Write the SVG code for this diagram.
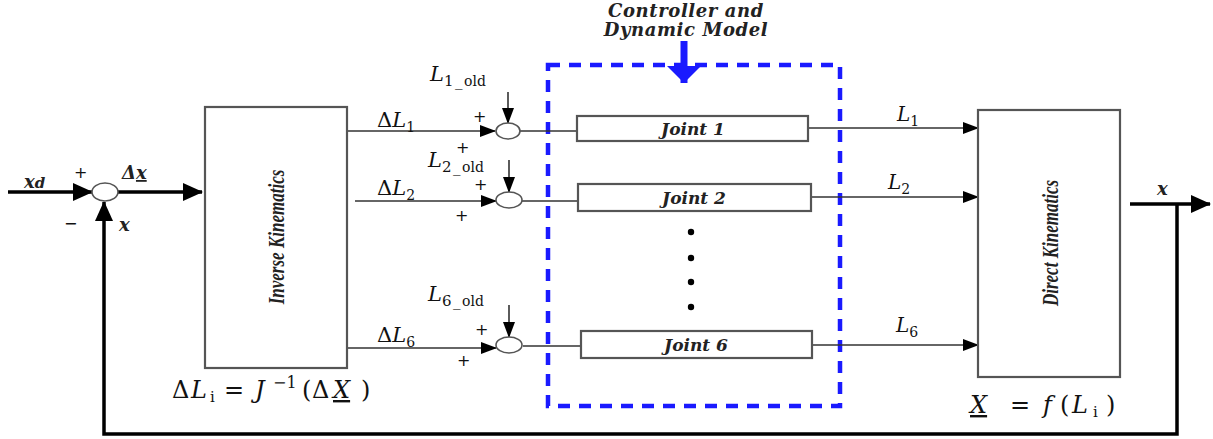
<svg xmlns="http://www.w3.org/2000/svg" width="1213" height="439" viewBox="0 0 1213 439">
  <style>
    .box { fill: #fff; stroke: #555; stroke-width: 2.2; }
    .wire { fill: none; stroke: #333; stroke-width: 1.6; }
    .thick { fill: none; stroke: #000; stroke-width: 3.5; }
    .sum { fill: #fff; stroke: #555; stroke-width: 1.6; }
    .math { font-family: "DejaVu Serif", "Liberation Serif", serif; font-style: italic; fill: #111; }
    .up { font-style: normal; }
    .sub { font-family: "DejaVu Serif", "Liberation Serif", serif; fill: #111; font-style: normal; }
    .sign { font-family: "DejaVu Sans", sans-serif; font-size: 16px; fill: #111; }
    .bi { font-family: "DejaVu Serif", "Liberation Serif", serif; font-style: italic; font-weight: bold; fill: #222; }
    .block { font-family: "Liberation Serif", serif; font-style: italic; font-weight: bold; fill: #222; }
  </style>
  <defs>
    <marker id="ah" markerUnits="userSpaceOnUse" markerWidth="16" markerHeight="12" refX="15" refY="6" orient="auto">
      <path d="M0,0 L16,6 L0,12 Z" fill="#000"/>
    </marker>
    <marker id="ahBig" markerUnits="userSpaceOnUse" markerWidth="20" markerHeight="18" refX="19" refY="9" orient="auto">
      <path d="M0,0 L20,9 L0,18 Z" fill="#000"/>
    </marker>
    <marker id="ahBlue" markerUnits="userSpaceOnUse" markerWidth="18" markerHeight="34" refX="17" refY="17" orient="auto">
      <path d="M0,0 L17,17 L0,34 Z" fill="#1a1aff"/>
    </marker>
  </defs>

  <!-- controller group frame -->
  <g id="controller">
    <rect x="548" y="65" width="292" height="341" fill="none" stroke="#1a1aff" stroke-width="4.5" stroke-dasharray="12,9"/>
    <text class="bi" font-size="18" x="686" y="17" text-anchor="middle" letter-spacing="0.6">Controller and</text>
    <text class="bi" font-size="18" x="686" y="36" text-anchor="middle" letter-spacing="0.6">Dynamic Model</text>
  </g>

  <!-- connectors -->
  <g id="connectors">
    <!-- reference input and error -->
    <line class="thick" x1="8" y1="192" x2="92" y2="192" marker-end="url(#ahBig)"/>
    <line class="thick" x1="118" y1="192" x2="202" y2="192" marker-end="url(#ahBig)"/>
    <!-- feedback loop -->
    <polyline class="thick" points="1177,204 1177,434 104,434 104,202" marker-end="url(#ahBig)"/>
    <line class="thick" x1="1130" y1="204" x2="1210" y2="204" marker-end="url(#ahBig)"/>
    <!-- length increments -->
    <line class="wire" x1="347" y1="131" x2="495" y2="131" marker-end="url(#ah)"/>
    <line class="wire" x1="355" y1="201" x2="496" y2="201" marker-end="url(#ah)"/>
    <line class="wire" x1="347" y1="348" x2="496" y2="348" marker-end="url(#ah)"/>
    <!-- previous lengths -->
    <line class="wire" x1="508" y1="92" x2="508" y2="123" marker-end="url(#ah)"/>
    <line class="wire" x1="509" y1="160" x2="509" y2="192" marker-end="url(#ah)"/>
    <line class="wire" x1="509" y1="305" x2="509" y2="337" marker-end="url(#ah)"/>
    <!-- to joints -->
    <line class="wire" x1="520" y1="131" x2="577" y2="131"/>
    <line class="wire" x1="522" y1="201" x2="578" y2="201"/>
    <line class="wire" x1="523" y1="346" x2="581" y2="346"/>
    <!-- joint outputs -->
    <line class="wire" x1="808" y1="128" x2="978" y2="128" marker-end="url(#ah)"/>
    <line class="wire" x1="811" y1="197" x2="978" y2="197" marker-end="url(#ah)"/>
    <line class="wire" x1="812" y1="345" x2="978" y2="345" marker-end="url(#ah)"/>
    <!-- controller arrow -->
    <line x1="684" y1="41" x2="684" y2="83" stroke="#1a1aff" stroke-width="7" marker-end="url(#ahBlue)"/>
  </g>

  <!-- summing junctions -->
  <g id="sum-main">
    <ellipse class="sum" cx="105" cy="192" rx="13" ry="9"/>
    <text class="sign" x="74" y="178">+</text>
    <text class="sign" x="64" y="229">−</text>
  </g>
  <g id="sum-1">
    <ellipse class="sum" cx="508" cy="131" rx="12" ry="8"/>
    <text class="sign" x="473" y="122">+</text>
    <text class="sign" x="456" y="153">+</text>
  </g>
  <g id="sum-2">
    <ellipse class="sum" cx="509" cy="200" rx="13" ry="8"/>
    <text class="sign" x="474" y="190">+</text>
    <text class="sign" x="455" y="221">+</text>
  </g>
  <g id="sum-6">
    <ellipse class="sum" cx="509" cy="345" rx="13" ry="8"/>
    <text class="sign" x="475" y="335">+</text>
    <text class="sign" x="457" y="366">+</text>
  </g>

  <!-- kinematics blocks -->
  <g id="inverse-kinematics">
    <rect class="box" x="205" y="107" width="142" height="261"/>
    <text class="block" font-size="23" transform="translate(284,237) rotate(-90) scale(0.74,1)" text-anchor="middle">Inverse Kinematics</text>
  </g>
  <g id="direct-kinematics">
    <rect class="box" x="978" y="110" width="142" height="267"/>
    <text class="block" font-size="23" transform="translate(1058,243) rotate(-90) scale(0.74,1)" text-anchor="middle">Direct Kinematics</text>
  </g>

  <!-- joints -->
  <g id="joint-1">
    <rect class="box" x="577" y="116" width="231" height="25"/>
    <text class="bi" font-size="17" x="693" y="135" text-anchor="middle">Joint 1</text>
  </g>
  <g id="joint-2">
    <rect class="box" x="578" y="184" width="233" height="27"/>
    <text class="bi" font-size="17" x="694" y="204" text-anchor="middle">Joint 2</text>
  </g>
  <g id="joint-6">
    <rect class="box" x="581" y="331" width="231" height="27"/>
    <text class="bi" font-size="17" x="696" y="351" text-anchor="middle">Joint 6</text>
  </g>
  <g id="ellipsis">
    <circle cx="691" cy="232" r="3.2" fill="#000"/>
    <circle cx="691" cy="258" r="3.2" fill="#000"/>
    <circle cx="691" cy="282" r="3.2" fill="#000"/>
    <circle cx="691" cy="307" r="3.2" fill="#000"/>
  </g>

  <!-- signal labels -->
  <g id="labels">
    <text class="bi" font-size="18" x="24" y="188">x<tspan font-size="15">d</tspan></text>
    <text class="bi" font-size="18" x="122" y="179">Δ<tspan text-decoration="underline">x</tspan></text>
    <text class="bi" font-size="18" x="119" y="231">x</text>
    <text class="bi" font-size="18" x="1157" y="195">x</text>

    <text class="math" font-size="21" x="377" y="127"><tspan class="up">Δ</tspan>L<tspan class="sub" font-size="14" dy="5">1</tspan></text>
    <text class="math" font-size="21" x="377" y="195"><tspan class="up">Δ</tspan>L<tspan class="sub" font-size="14" dy="5">2</tspan></text>
    <text class="math" font-size="21" x="377" y="342"><tspan class="up">Δ</tspan>L<tspan class="sub" font-size="14" dy="5">6</tspan></text>

    <text class="math" font-size="21" x="430" y="81">L<tspan class="sub" font-size="15" dy="5" letter-spacing="1.5">1_</tspan><tspan class="sub" font-size="14" font-style="italic">old</tspan></text>
    <text class="math" font-size="21" x="428" y="167">L<tspan class="sub" font-size="15" dy="5" letter-spacing="1.5">2_</tspan><tspan class="sub" font-size="14" font-style="italic">old</tspan></text>
    <text class="math" font-size="21" x="428" y="301">L<tspan class="sub" font-size="15" dy="5" letter-spacing="1.5">6_</tspan><tspan class="sub" font-size="14" font-style="italic">old</tspan></text>

    <text class="math" font-size="20" x="897" y="121">L<tspan class="sub" font-size="14" dy="5">1</tspan></text>
    <text class="math" font-size="20" x="888" y="189">L<tspan class="sub" font-size="14" dy="5">2</tspan></text>
    <text class="math" font-size="20" x="896" y="332">L<tspan class="sub" font-size="14" dy="5">6</tspan></text>

    <text class="math" font-size="24" y="398"><tspan class="up" x="172">Δ</tspan><tspan x="191">L</tspan><tspan class="sub" font-size="15" x="210" dy="4">i</tspan><tspan class="up" x="224" dy="-4">=</tspan><tspan x="255">J</tspan><tspan class="up" font-size="16" x="273" dy="-10">−1</tspan><tspan class="up" x="302" dy="10">(</tspan><tspan class="up" x="312">Δ</tspan><tspan x="333" text-decoration="underline">X</tspan><tspan class="up" x="361">)</tspan></text>
    <text class="math" font-size="24" y="413"><tspan x="970" text-decoration="underline">X</tspan><tspan class="up" x="1010">=</tspan><tspan x="1043">f</tspan><tspan class="up" x="1060">(</tspan><tspan x="1072">L</tspan><tspan class="sub" font-size="15" x="1093" dy="4">i</tspan><tspan class="up" x="1106" dy="-4">)</tspan></text>
  </g>
</svg>
